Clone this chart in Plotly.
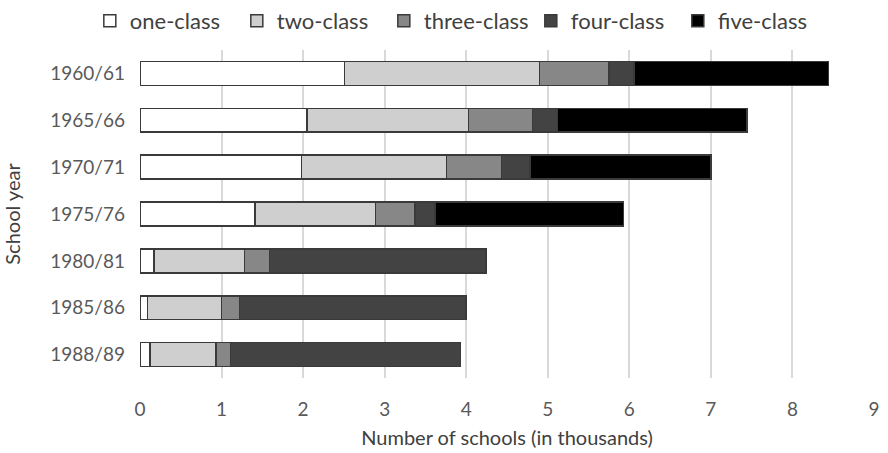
import plotly.graph_objects as go

years = ["1960/61", "1965/66", "1970/71", "1975/76", "1980/81", "1985/86", "1988/89"]
one_class = [2.51, 2.05, 1.98, 1.41, 0.17, 0.09, 0.12]
two_class = [2.39, 1.98, 1.78, 1.48, 1.11, 0.91, 0.81]
three_class = [0.85, 0.78, 0.67, 0.48, 0.31, 0.22, 0.18]
four_class = [0.31, 0.31, 0.35, 0.25, 2.65, 2.78, 2.82]
five_class = [2.38, 2.32, 2.22, 2.31, 0, 0, 0]

series = [
    ("one-class", one_class, "#ffffff"),
    ("two-class", two_class, "#cfcfcf"),
    ("three-class", three_class, "#878787"),
    ("four-class", four_class, "#434343"),
    ("five-class", five_class, "#000000"),
]

FONT = "Lato, 'Open Sans', sans-serif"

fig = go.Figure()
for name, vals, col in series:
    fig.add_trace(go.Bar(
        y=years, x=vals, name=name, orientation="h",
        marker=dict(color=col, line=dict(color="#3a3a3a", width=1.5)),
    ))

fig.update_layout(
    width=888, height=453,
    barmode="stack", bargap=0.49,
    plot_bgcolor="white", paper_bgcolor="white",
    margin=dict(l=140, r=8, t=48, b=75),
    font=dict(family=FONT, color="#595959", size=19),
    legend=dict(
        orientation="h", traceorder="normal",
        x=0.515, xanchor="center", xref="container",
        y=1.0, yanchor="top", yref="container",
        font=dict(size=22, color="#404040"),
        itemwidth=30, tracegroupgap=0,
        entrywidth=102, entrywidthmode="pixels",
    ),
    xaxis=dict(
        range=[0, 9], dtick=1, showgrid=True, gridcolor="#d9d9d9", gridwidth=1.5,
        zeroline=False, showline=False, ticks="", ticklabelstandoff=18,
        title=dict(text="Number of schools (in thousands)", font=dict(size=20, color="#404040"), standoff=11),
        tickfont=dict(size=19, color="#595959"),
    ),
    yaxis=dict(
        autorange="reversed", showgrid=False, zeroline=False, showline=False,
        ticks="", ticklabelstandoff=14,
        title=dict(text="School year", font=dict(size=20, color="#404040"), standoff=28),
        tickfont=dict(size=19, color="#595959"),
    ),
)

fig.write_html("out.html")
